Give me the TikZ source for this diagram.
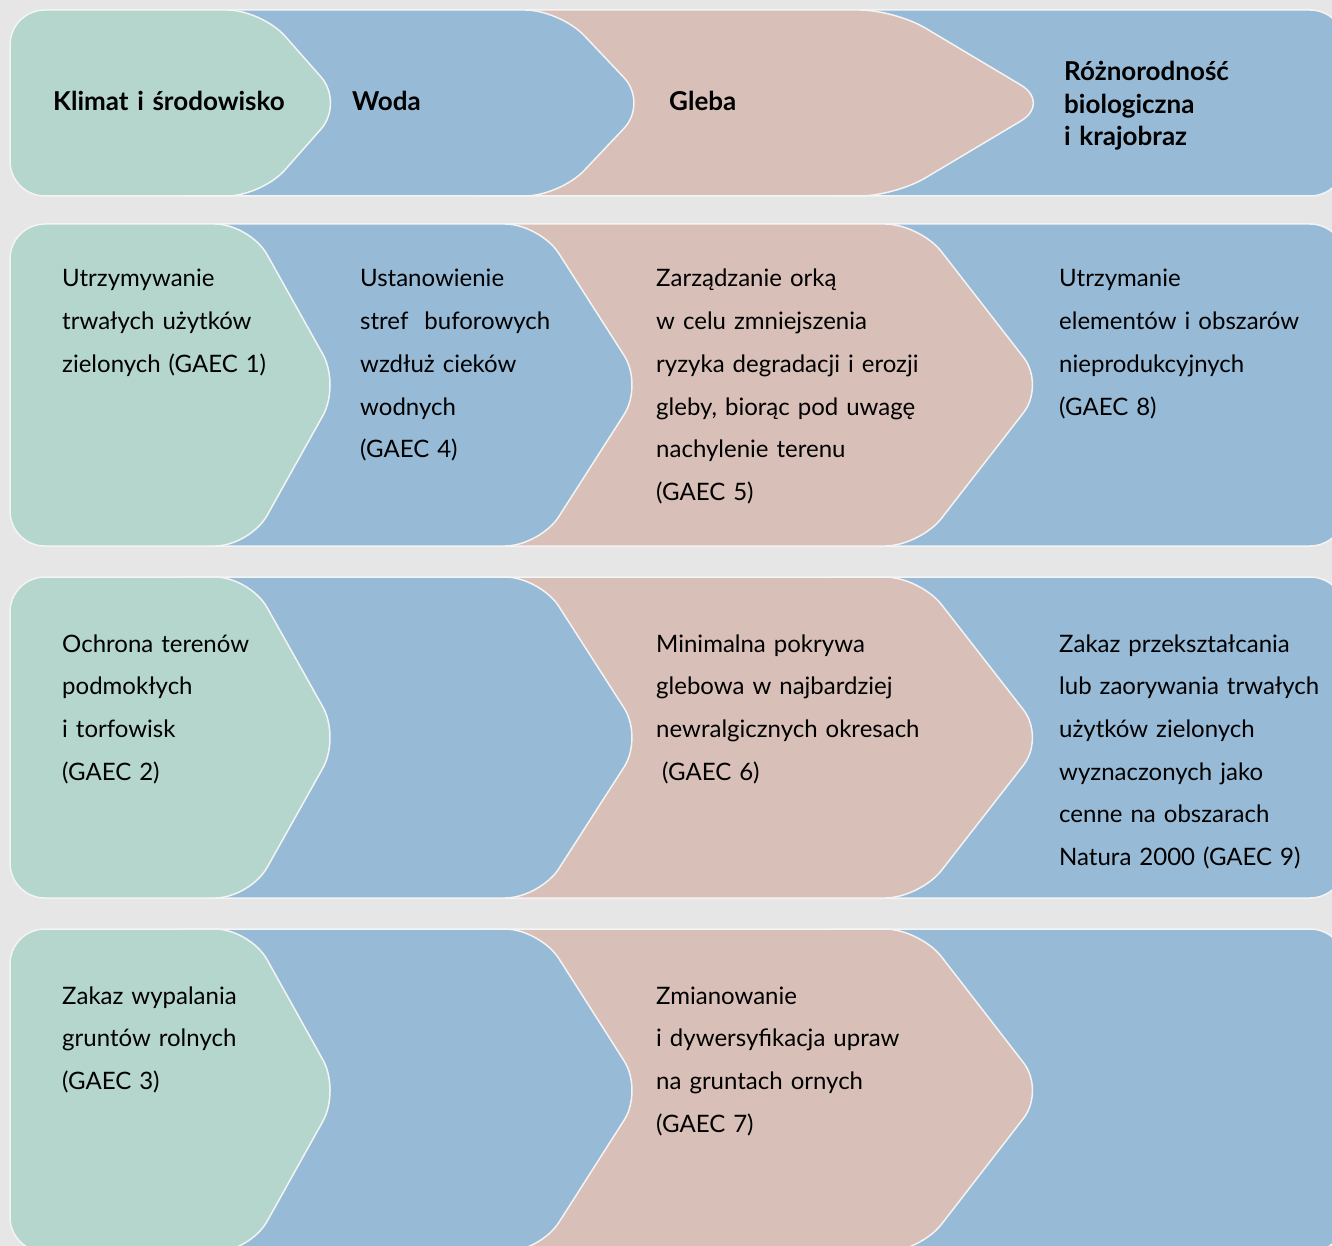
\documentclass[tikz,border=0pt]{standalone}
\usepackage{fontspec}
\setmainfont{Lato}
\definecolor{PageGray}{HTML}{E6E6E6}
\definecolor{Mint}{HTML}{B4D6CD}
\definecolor{Sky}{HTML}{97BAD6}
\definecolor{Rose}{HTML}{D8BFB8}
\definecolor{Rim}{HTML}{F4F4F4}
% chevron band: fill, left x, corner x, tip x, top y, bottom y
\newcommand{\bandshape}[6]{%
  \path[band, fill=#1] (#2,#5) -- (#3,#5) -- (#4,{(#5+#6)/2}) -- (#3,#6) -- (#2,#6) -- cycle;}
\newcommand{\bandend}[3]{%
  \path[band, fill=Sky] (#1,#2) rectangle (1345,#3);}

\begin{document}
\begin{tikzpicture}[
    x=1pt, y=-1pt,
    band/.style={draw=Rim, line width=1.5pt, rounded corners=35pt},
    txt/.style={anchor=base west, inner sep=0pt, text width=380pt, align=left,
                font=\fontsize{24}{42.7}\selectfont, text=black},
    head/.style={txt, font=\fontsize{26}{32.3}\selectfont\bfseries}
  ]
    \useasboundingbox (0,0) rectangle (1332,1246);
    \clip (0,0) rectangle (1332,1246);
    \fill[PageGray] (0,0) rectangle (1332,1246);

    % header row
    \bandend{800}{10}{196}
    \bandshape{Rose}{450}{895}{1051}{10}{196}
    \bandshape{Sky}{150}{560}{648}{10}{196}
    \bandshape{Mint}{10}{262}{344}{10}{196}
    \node[head] (hklimat) at (53,111)  {Klimat i środowisko};
    \node[head] (hwoda)   at (352,111) {Woda};
    \node[head] (hgleba)  at (669,111) {Gleba};
    \node[head] (hbio)    at (1064,81) {Różnorodność\\biologiczna\\i krajobraz};

    % first row
    \bandend{800}{224}{546}
    \bandshape{Rose}{450}{920}{1045}{224}{546}
    \bandshape{Sky}{150}{540}{643}{224}{546}
    \bandshape{Mint}{10}{250}{340}{224}{546}
    \node[txt] (gaec1) at (62,287)   {Utrzymywanie\\trwałych użytków\\zielonych (GAEC 1)};
    \node[txt] (gaec4) at (360,287)  {Ustanowienie\\stref\ \ buforowych\\wzdłuż cieków\\wodnych\\(GAEC 4)};
    \node[txt] (gaec5) at (656,287)  {Zarządzanie orką\\w celu zmniejszenia\\ryzyka degradacji i erozji\\gleby, biorąc pod uwagę\\nachylenie terenu\\(GAEC 5)};
    \node[txt] (gaec8) at (1059,287) {Utrzymanie\\elementów i obszarów\\nieprodukcyjnych\\(GAEC 8)};

    % second row
    \bandend{800}{577}{898}
    \bandshape{Rose}{450}{920}{1045}{577}{898}
    \bandshape{Sky}{150}{540}{643}{577}{898}
    \bandshape{Mint}{10}{250}{340}{577}{898}
    \node[txt] (gaec2) at (62,652)   {Ochrona terenów\\podmokłych\\i torfowisk\\(GAEC 2)};
    \node[txt] (gaec6) at (656,652)  {Minimalna pokrywa\\glebowa w najbardziej\\newralgicznych okresach\\\hspace*{6pt}(GAEC 6)};
    \node[txt] (gaec9) at (1059,652) {Zakaz przekształcania\\lub zaorywania trwałych\\użytków zielonych\\wyznaczonych jako\\cenne na obszarach\\Natura 2000 (GAEC 9)};

    % third row
    \bandend{800}{929}{1252}
    \bandshape{Rose}{450}{920}{1045}{929}{1252}
    \bandshape{Sky}{150}{540}{643}{929}{1252}
    \bandshape{Mint}{10}{250}{340}{929}{1252}
    \node[txt] (gaec3) at (62,1004)  {Zakaz wypalania\\gruntów rolnych\\(GAEC 3)};
    \node[txt] (gaec7) at (656,1004) {Zmianowanie\\i dywersyfikacja upraw\\na gruntach ornych\\(GAEC 7)};
  \end{tikzpicture}
\end{document}
